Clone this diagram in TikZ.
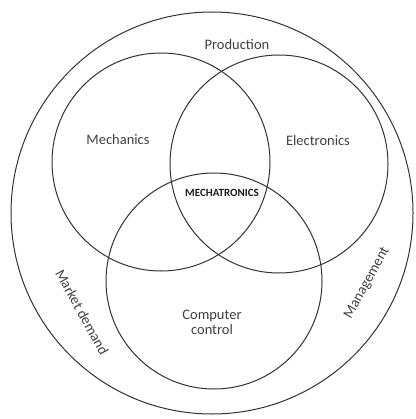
\documentclass[tikz,border=0pt]{standalone}
\usepackage{fontspec}
\setmainfont{Carlito}
\begin{document}
\begin{tikzpicture}[x=1pt,y=-1pt,
  ring/.style={draw=black!80,line width=1pt},
  lbl/.style={text=black!75,font=\fontsize{14.5}{16}\selectfont,align=center,inner sep=0pt}]
\useasboundingbox (0,0) rectangle (415,419);
\draw[ring] (212,213) circle[radius=201pt];
\draw[ring] (161,162) circle[radius=109pt];
\draw[ring] (279,164) circle[radius=109pt];
\draw[ring] (214,281) circle[radius=108pt];
\node[lbl] (prod) at (237,45) {Production};
\node[lbl] (mech) at (118,140) {Mechanics};
\node[lbl] (elec) at (318,141) {Electronics};
\node[lbl,text=black!90,font=\bfseries\fontsize{11}{12}\selectfont] (mt) at (222,193) {MECHATRONICS};
\node[lbl] (comp) at (212,322) {Computer\\[-1pt]control};
\node[lbl,rotate=-61] (mkt) at (82,312) {Market demand};
\node[lbl,rotate=61] (mgmt) at (367,283) {Management};
\end{tikzpicture}
\end{document}
